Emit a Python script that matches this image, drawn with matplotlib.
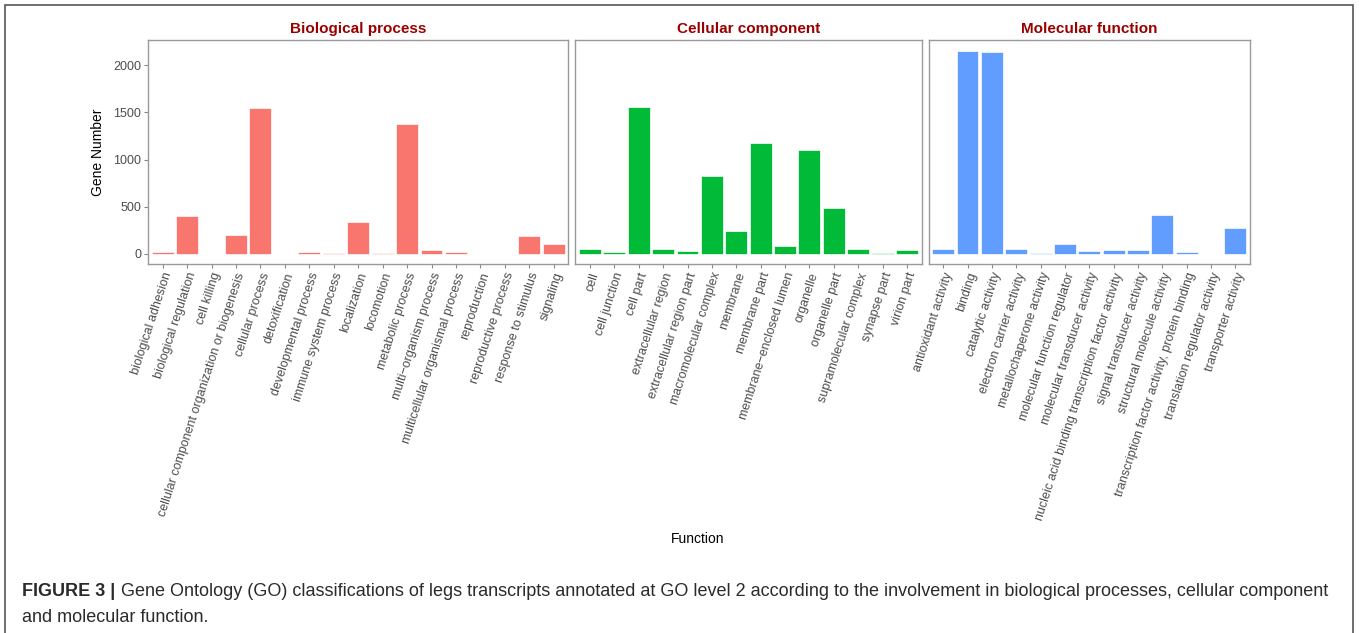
import matplotlib.pyplot as plt
from matplotlib.patches import Rectangle

plt.rcParams['font.family'] = ['Liberation Sans', 'DejaVu Sans']

# Dados
bp_termos = ["biological adhesion", "biological regulation", "cell killing",
             "cellular component organization or biogenesis", "cellular process",
             "detoxification", "developmental process", "immune system process",
             "localization", "locomotion", "metabolic process", "multi\u2212organism process",
             "multicellular organismal process", "reproduction", "reproductive process",
             "response to stimulus", "signaling"]
bp_valores = [22, 403, 3, 200, 1544, 2, 20, 7, 333, 10, 1375, 40, 22, 2, 3, 193, 105]

cc_termos = ["cell", "cell junction", "cell part", "extracellular region",
             "extracellular region part", "macromolecular complex", "membrane",
             "membrane part", "membrane\u2212enclosed lumen", "organelle", "organelle part",
             "supramolecular complex", "synapse part", "virion part"]
cc_valores = [53, 18, 1558, 49, 35, 821, 246, 1172, 88, 1098, 484, 46, 10, 42]

mf_termos = ["antioxidant activity", "binding", "catalytic activity",
             "electron carrier activity", "metallochaperone activity",
             "molecular function regulator", "molecular transducer activity",
             "nucleic acid binding transcription factor activity",
             "signal transducer activity", "structural molecule activity",
             "transcription factor activity, protein binding",
             "translation regulator activity", "transporter activity"]
mf_valores = [46, 2154, 2137, 56, 5, 102, 35, 39, 39, 414, 18, 2, 270]

paineis = [
    ("Biological process", bp_termos, bp_valores, "#F8766D"),
    ("Cellular component", cc_termos, cc_valores, "#00BA38"),
    ("Molecular function", mf_termos, mf_valores, "#619CFF"),
]

fig = plt.figure(figsize=(13.59, 6.33), dpi=100)
gs = fig.add_gridspec(1, 3, width_ratios=[len(p[1]) for p in paineis],
                      left=148/1359, right=1250/1359, top=1-40/633, bottom=1-264/633,
                      wspace=0.0193)

cinza = "#4D4D4D"
for i, (titulo, termos, valores, cor) in enumerate(paineis):
    ax = fig.add_subplot(gs[0, i])
    x = range(len(termos))
    ax.bar(x, valores, width=0.9, color=cor, edgecolor="white", linewidth=0.5)
    ax.set_xlim(-0.6, len(termos) - 0.4)
    ax.set_ylim(-108, 2268)
    ax.set_xticks(list(x))
    ax.set_xticklabels(termos, rotation=72, ha="right", rotation_mode="anchor",
                       fontsize=9, color=cinza)
    ax.set_yticks([0, 500, 1000, 1500, 2000])
    ax.tick_params(axis="both", length=3, width=0.8, color="#888888", pad=2)
    if i == 0:
        ax.set_yticklabels(["0", "500", "1000", "1500", "2000"], fontsize=9, color=cinza)
        ax.set_ylabel("Gene Number", fontsize=10, labelpad=6)
    else:
        ax.tick_params(axis="y", left=False, labelleft=False)
    for s in ax.spines.values():
        s.set_color("#999999")
        s.set_linewidth(1.0)
    ax.set_title(titulo, fontsize=11, fontweight="bold", color="#990000", pad=5)

fig.text(698/1359, 1-539/633, "Function", ha="center", va="center", fontsize=10)

# legenda da figura
fig.text(22/1359, 1-591/633, "FIGURE 3 |", ha="left", va="center",
         fontsize=13, fontweight="bold", color="#2b2b2b")
fig.text(121/1359, 1-591/633,
         "Gene Ontology (GO) classifications of legs transcripts annotated at GO level 2 "
         "according to the involvement in biological processes, cellular component",
         ha="left", va="center", fontsize=13, color="#2b2b2b")
fig.text(22/1359, 1-617/633, "and molecular function.", ha="left", va="center",
         fontsize=13, color="#2b2b2b")

# moldura externa
fig.add_artist(Rectangle((5/1359, -0.01), 1348/1359, 1.01 - 5/633, transform=fig.transFigure,
                         fill=False, edgecolor="#555555", linewidth=1.2))

plt.savefig("out.png", dpi=100)
